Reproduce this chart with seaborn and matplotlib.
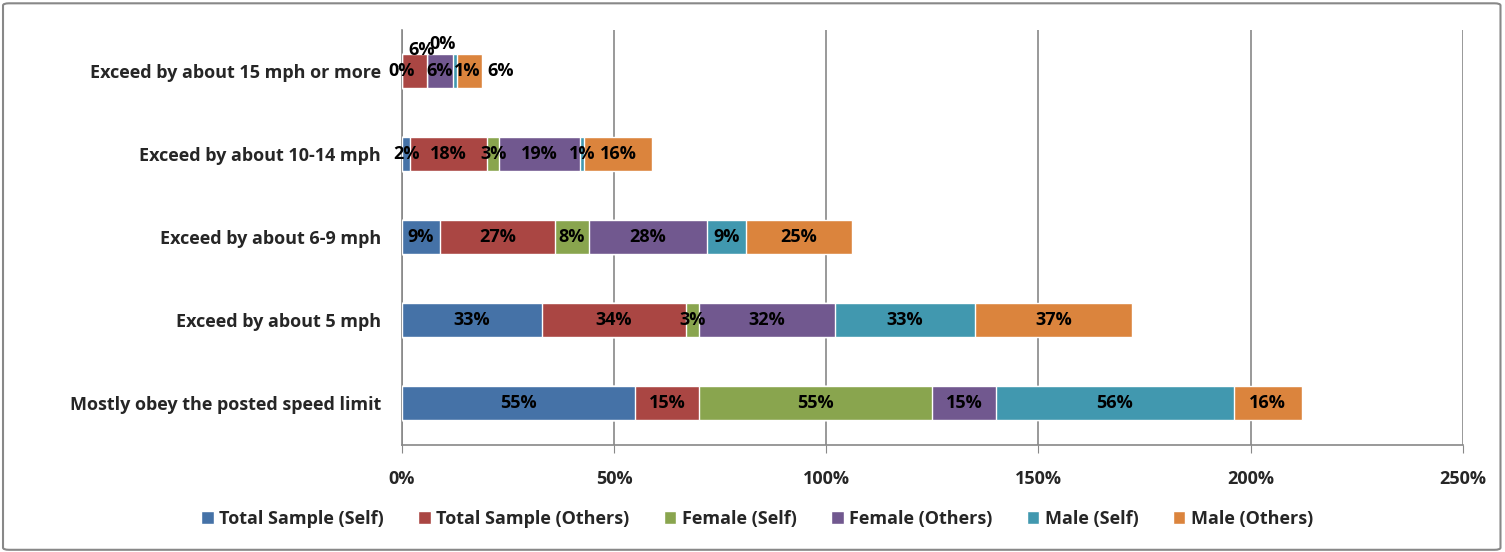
import numpy as np
import pandas as pd
import matplotlib.pyplot as plt
import seaborn as sns
from matplotlib.patches import FancyBboxPatch, Patch

# categories listed top to bottom
categories = [
    "Exceed by about 15 mph or more",
    "Exceed by about 10-14 mph",
    "Exceed by about 6-9 mph",
    "Exceed by about 5 mph",
    "Mostly obey the posted speed limit",
]
series = [
    "Total Sample (Self)",
    "Total Sample (Others)",
    "Female (Self)",
    "Female (Others)",
    "Male (Self)",
    "Male (Others)",
]
total_self = [0, 2, 9, 33, 55]
total_others = [6, 18, 27, 34, 15]
female_self = [0, 3, 8, 3, 55]
female_others = [6, 19, 28, 32, 15]
male_self = [1, 1, 9, 33, 56]
male_others = [6, 16, 25, 37, 16]
colors = ["#4572A7", "#AA4643", "#89A54E", "#71588F", "#4198AF", "#DB843D"]
xticks = [0, 50, 100, 150, 200, 250]

values = np.array([total_self, total_others, female_self,
                   female_others, male_self, male_others], dtype=float)
cum = values.cumsum(axis=0)

sns.set_style("white")
plt.rcParams["font.family"] = ["Open Sans", "DejaVu Sans"]
plt.rcParams["font.weight"] = "bold"
FS = 13

fig = plt.figure(figsize=(15.05, 5.52), dpi=100)
ax = fig.add_axes([0.267, 0.194, 0.705, 0.752])

# stacked bars: draw cumulative totals from largest to smallest
for i in reversed(range(len(series))):
    df = pd.DataFrame({"cat": categories, "val": cum[i]})
    sns.barplot(data=df, x="val", y="cat", orient="h", color=colors[i],
                width=0.41, saturation=1, ax=ax, zorder=3)

# data labels centred on each segment; small top-row labels are nudged apart
# (offsets in points, like Excel does for overlapping labels)
offsets = {(0, 0): (0, 0), (0, 1): (5, 15), (0, 2): (11, 20),
           (0, 4): (9, 0), (0, 5): (22, 0)}
for r in range(len(categories)):
    for i in range(len(series)):
        v = values[i, r]
        centre = cum[i, r] - v / 2
        dx, dy = offsets.get((r, i), (0, 0))
        ax.annotate(f"{int(v)}%", (centre, r), xytext=(dx, dy),
                    textcoords="offset points", ha="center", va="center",
                    fontsize=FS, fontweight="bold", color="black", zorder=5)

ax.set_xlim(0, 250)
ax.set_ylim(4.5, -0.5)
ax.set_xticks(xticks)
ax.set_xticklabels([f"{t}%" for t in xticks], fontsize=FS, fontweight="bold")
ax.set_xlabel("")
ax.set_ylabel("")
ax.tick_params(axis="y", which="major", length=0, pad=15, labelsize=FS)
for lab in ax.get_yticklabels():
    lab.set_fontweight("bold")
ax.set_yticks(np.arange(-0.5, 5, 1), minor=True)
ax.tick_params(axis="y", which="minor", length=6, color="#888888", direction="out")
ax.tick_params(axis="x", which="major", length=6, color="#888888", direction="out",
               pad=12, bottom=True)

ax.grid(axis="x", color="#888888", linewidth=1.2, zorder=0)
ax.set_axisbelow(True)
for s in ["top", "right"]:
    ax.spines[s].set_visible(False)
for s in ["left", "bottom"]:
    ax.spines[s].set_color("#888888")
    ax.spines[s].set_linewidth(1.2)

handles = [Patch(facecolor=c, label=s) for c, s in zip(colors, series)]
leg = fig.legend(handles=handles, loc="center", bbox_to_anchor=(0.503, 0.06),
                 ncol=6, frameon=False, fontsize=FS, handlelength=0.7,
                 handleheight=0.7, handletextpad=0.3, columnspacing=1.9)
for t in leg.get_texts():
    t.set_fontweight("bold")

border = FancyBboxPatch((0.002, 0.004), 0.995, 0.99,
                        boxstyle="round,pad=0,rounding_size=0.004",
                        transform=fig.transFigure, fill=False,
                        edgecolor="#888888", linewidth=1.5)
fig.patches.append(border)

fig.savefig("out.png", dpi=100)
